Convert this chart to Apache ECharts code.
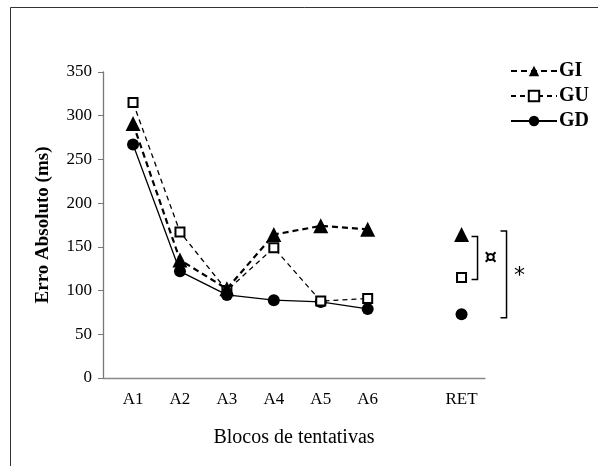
<!DOCTYPE html>
<html>
<head>
<meta charset="utf-8">
<script src="https://cdn.jsdelivr.net/npm/echarts@6/dist/echarts.min.js"></script>
<style>html,body{margin:0;padding:0;background:#fff;}#c{width:598px;height:466px;}</style>
</head>
<body>
<div id="c"></div>
<script>
var categories = ["A1", "A2", "A3", "A4", "A5", "A6", "RET"];
var catPos = [1, 2, 3, 4, 5, 6, 8];
var GI = [291, 135, 102, 164, 174, 170, 164];
var GU = [315, 167, 100, 149, 88, 91, 115];
var GD = [267, 122, 95, 89, 87, 79, 73];
var yTicks = [0, 50, 100, 150, 200, 250, 300, 350];

function toData(vals) {
  var d = [];
  for (var i = 0; i < 6; i++) d.push([catPos[i], vals[i]]);
  d.push([7, null]);
  d.push([catPos[6], vals[6]]);
  return d;
}

var font = "Liberation Serif";
var chart = echarts.init(document.getElementById('c'));
var option = {
  backgroundColor: '#fff',
  animation: false,
  grid: { left: 103, right: 113, top: 72, bottom: 88 },
  legend: {
    orient: 'vertical', left: 505, top: 56,
    itemWidth: 46, itemHeight: 13, itemGap: 5,
    textStyle: { fontFamily: font, fontSize: 20, fontWeight: 'bold', color: '#000', padding: [0,0,0,-3] },
    data: ['GI', 'GU', 'GD']
  },
  xAxis: {
    type: 'value', min: 0.36, max: 8.5,
    name: 'Blocos de tentativas', nameLocation: 'middle', nameGap: 50,
    nameTextStyle: { fontFamily: font, fontSize: 20, color: '#000' },
    axisLine: { lineStyle: { color: '#888', width: 1.3 } },
    axisTick: { show: false },
    splitLine: { show: false },
    axisLabel: {
      customValues: catPos, margin: 13,
      fontFamily: font, fontSize: 17, color: '#000',
      formatter: function (v) { var i = catPos.indexOf(v); return i >= 0 ? categories[i] : ''; }
    }
  },
  yAxis: {
    type: 'value', min: 0, max: 350, interval: 50,
    name: 'Erro Absoluto (ms)', nameLocation: 'middle', nameGap: 50,
    nameTextStyle: { fontFamily: font, fontSize: 19, fontWeight: 'bold', color: '#000' },
    axisLine: { show: true, lineStyle: { color: '#777', width: 1.3 } },
    axisTick: { show: true, length: 5, lineStyle: { color: '#777' } },
    splitLine: { show: false },
    axisLabel: { fontFamily: font, fontSize: 17, color: '#000', margin: 11 }
  },
  series: [
    {
      name: 'GD', type: 'line', data: toData(GD), z: 3,
      symbol: 'circle', symbolSize: 12,
      itemStyle: { color: '#000' },
      lineStyle: { color: '#000', width: 1.3, type: 'solid' }
    },
    {
      name: 'GU', type: 'line', data: toData(GU), z: 4,
      symbol: 'rect', symbolSize: 9,
      itemStyle: { color: '#fff', borderColor: '#000', borderWidth: 2 },
      lineStyle: { color: '#000', width: 1.3, type: [5, 4] }
    },
    {
      name: 'GI', type: 'line', data: toData(GI), z: 5,
      symbol: 'triangle', symbolSize: 15,
      itemStyle: { color: '#000' },
      lineStyle: { color: '#000', width: 2.2, type: [6, 4] }
    }
  ],
  graphic: [
    { type: 'rect', shape: { x: 10.5, y: 7.5, width: 600, height: 470 },
      style: { fill: null, stroke: '#333', lineWidth: 1 }, silent: true }
  ]
};
chart.setOption(option);

// significance brackets beside the RET points
var ret = catPos[6];
function px(v) { return chart.convertToPixel({ gridIndex: 0 }, [ret, v]); }
var p1a = px(GI[6]), p1b = px(GU[6]);
var p2a = px(GI[6] + 4), p2b = px(GD[6] - 4);
var xr = p1a[0];
var g = option.graphic.slice();
function bracket(xv, ya, yb) {
  return { type: 'polyline', shape: { points: [[xv - 6, ya], [xv, ya], [xv, yb], [xv - 6, yb]] },
    style: { stroke: '#000', lineWidth: 1.5, fill: null }, silent: true };
}
g.push(bracket(xr + 16, p1a[1] + 2, p1b[1] + 2));
g.push(bracket(xr + 45, p2a[1], p2b[1]));
g.push({ type: 'text', x: xr + 29, y: (p1a[1] + p1b[1]) / 2 + 2,
  style: { text: '¤', font: 'bold 20px "DejaVu Sans"', fill: '#000', align: 'center', verticalAlign: 'middle' } });
g.push({ type: 'text', x: xr + 58, y: (p2a[1] + p2b[1]) / 2 + 2,
  style: { text: '*', font: '22px "DejaVu Sans"', fill: '#000', align: 'center', verticalAlign: 'middle' } });
chart.setOption({ graphic: g });
</script>
</body>
</html>
